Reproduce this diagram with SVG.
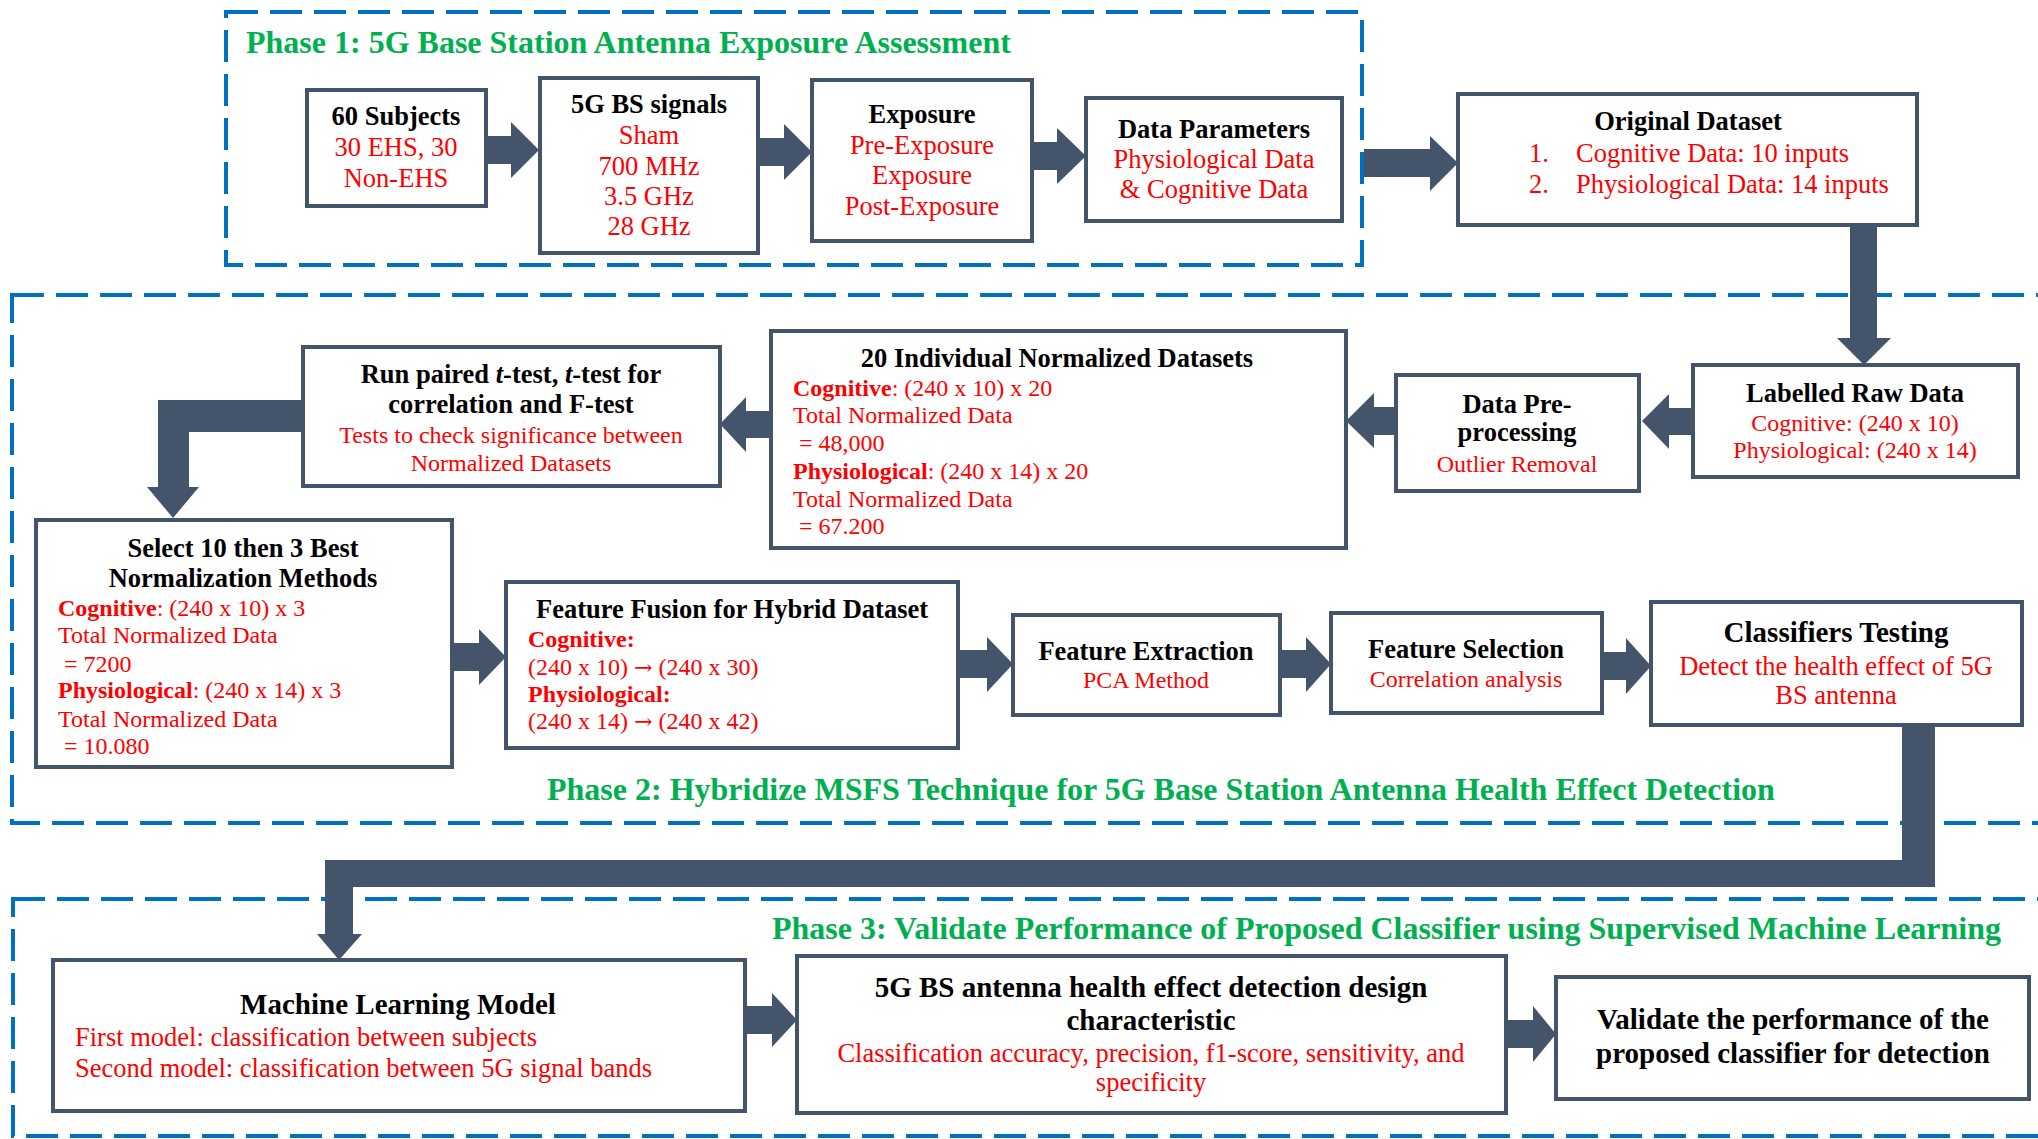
<svg xmlns="http://www.w3.org/2000/svg" width="2038" height="1139" viewBox="0 0 2038 1139">
<style>
text{font-family:"Liberation Serif","Times New Roman",serif}
.box{fill:#fff;stroke:#44546A;stroke-width:4}
.dash{fill:none;stroke:#0070C0;stroke-width:4;stroke-dasharray:32 12}
.arr{fill:#44546A}
.ph{fill:#00B050;font-weight:bold;font-size:32px}
.h{fill:#000;font-weight:bold;font-size:26.5px;text-anchor:middle}
.h29{fill:#000;font-weight:bold;font-size:29px;text-anchor:middle}
.r{fill:#FF0000;font-size:26.5px;text-anchor:middle}
.r24{fill:#FF0000;font-size:24px;text-anchor:middle}
.rl{fill:#FF0000;font-size:24px}
.rl26{fill:#FF0000;font-size:26.5px}
.b{font-weight:bold}
.ar{font-family:"DejaVu Serif",serif;font-size:22px}
</style>
<rect width="2038" height="1139" fill="#fff"/>
<g id="phases">
<rect class="dash" x="226" y="12" width="1136" height="253"/>
<rect class="dash" x="12" y="295" width="2060" height="528"/>
<rect class="dash" x="13" y="899" width="2060" height="237"/>
<text class="ph" x="246" y="53">Phase 1: 5G Base Station Antenna Exposure Assessment</text>
<text class="ph" x="547" y="800">Phase 2: Hybridize MSFS Technique for 5G Base Station Antenna Health Effect Detection</text>
<text class="ph" x="772" y="939">Phase 3: Validate Performance of Proposed Classifier using Supervised Machine Learning</text>
</g>
<g id="connectors">
<polygon class="arr" points="486,136 511,136 511,122 539,150 511,178 511,164 486,164"/>
<polygon class="arr" points="758,138 784,138 784,124 812,152 784,180 784,166 758,166"/>
<polygon class="arr" points="1032,142 1057,142 1057,128 1086,156 1057,184 1057,170 1032,170"/>
<polygon class="arr" points="1364,149 1430,149 1430,136 1458,163 1430,191 1430,177 1364,177"/>
<polygon class="arr" points="1850,225 1877,225 1877,338 1891,338 1864,365 1837,338 1850,338"/>
<polygon class="arr" points="1693,408 1669,408 1669,394 1642,421 1669,449 1669,435 1693,435"/>
<polygon class="arr" points="1396,407 1374,407 1374,393 1346,421 1374,448 1374,435 1396,435"/>
<polygon class="arr" points="771,411 746,411 746,397 720,424 746,452 746,438 771,438"/>
<polygon class="arr" points="303,400 158,400 158,487 147,487 173,518 199,487 189,487 189,432 303,432"/>
<polygon class="arr" points="452,643 479,643 479,629 506,657 479,685 479,671 452,671"/>
<polygon class="arr" points="958,650 987,650 987,637 1013,664 987,692 987,678 958,678"/>
<polygon class="arr" points="1280,650 1306,650 1306,637 1331,664 1306,692 1306,678 1280,678"/>
<polygon class="arr" points="1602,652 1626,652 1626,638 1651,666 1626,694 1626,680 1602,680"/>
<polygon class="arr" points="1902,725 1935,725 1935,887 353,887 353,934 362,934 339,960 317,934 325,934 325,860 1902,860"/>
<polygon class="arr" points="745,1006 772,1006 772,993 797,1020 772,1047 772,1034 745,1034"/>
<polygon class="arr" points="1506,1020 1533,1020 1533,1006 1556,1034 1533,1062 1533,1048 1506,1048"/>
</g>
<g id="n1">
<rect class="box" x="307" y="90" width="179" height="116"/>
<text class="h" x="396" y="125">60 Subjects</text>
<text class="r" x="396" y="156">30 EHS, 30</text>
<text class="r" x="396" y="187">Non-EHS</text>
</g>
<g id="n2">
<rect class="box" x="540" y="78" width="218" height="175"/>
<text class="h" x="649" y="113">5G BS signals</text>
<text class="r" x="649" y="144">Sham</text>
<text class="r" x="649" y="175">700 MHz</text>
<text class="r" x="649" y="205">3.5 GHz</text>
<text class="r" x="649" y="235">28 GHz</text>
</g>
<g id="n3">
<rect class="box" x="812" y="80" width="220" height="161"/>
<text class="h" x="922" y="123">Exposure</text>
<text class="r" x="922" y="154">Pre-Exposure</text>
<text class="r" x="922" y="184">Exposure</text>
<text class="r" x="922" y="215">Post-Exposure</text>
</g>
<g id="n4">
<rect class="box" x="1086" y="98" width="256" height="123"/>
<text class="h" x="1214" y="138">Data Parameters</text>
<text class="r" x="1214" y="168">Physiological Data</text>
<text class="r" x="1214" y="198">&amp; Cognitive Data</text>
</g>
<g id="n5">
<rect class="box" x="1458" y="94" width="459" height="131"/>
<text class="h" x="1688" y="130">Original Dataset</text>
<text class="rl26" x="1529" y="162">1.</text>
<text class="rl26" x="1576" y="162">Cognitive Data: 10 inputs</text>
<text class="rl26" x="1529" y="193">2.</text>
<text class="rl26" x="1576" y="193">Physiological Data: 14 inputs</text>
</g>
<g id="n6">
<rect class="box" x="1693" y="365" width="325" height="112"/>
<text class="h" x="1855" y="402">Labelled Raw Data</text>
<text class="r24" x="1855" y="431">Cognitive: (240 x 10)</text>
<text class="r24" x="1855" y="458">Physiological: (240 x 14)</text>
</g>
<g id="n7">
<rect class="box" x="1396" y="375" width="243" height="116"/>
<text class="h" x="1517" y="413">Data Pre-</text>
<text class="h" x="1517" y="441">processing</text>
<text class="r24" x="1517" y="472">Outlier Removal</text>
</g>
<g id="n8">
<rect class="box" x="771" y="331" width="575" height="217"/>
<text class="h" x="1057" y="367">20 Individual Normalized Datasets</text>
<text class="rl" x="793" y="396"><tspan class="b">Cognitive</tspan>: (240 x 10) x 20</text>
<text class="rl" x="793" y="423">Total Normalized Data</text>
<text class="rl" x="799" y="451">= 48,000</text>
<text class="rl" x="793" y="479"><tspan class="b">Physiological</tspan>: (240 x 14) x 20</text>
<text class="rl" x="793" y="507">Total Normalized Data</text>
<text class="rl" x="799" y="534">= 67.200</text>
</g>
<g id="n9">
<rect class="box" x="303" y="347" width="417" height="139"/>
<text class="h" x="511" y="383">Run paired <tspan font-style="italic">t</tspan>-test, <tspan font-style="italic">t</tspan>-test for</text>
<text class="h" x="511" y="413">correlation and F-test</text>
<text class="r24" x="511" y="443">Tests to check significance between</text>
<text class="r24" x="511" y="471">Normalized Datasets</text>
</g>
<g id="n10">
<rect class="box" x="36" y="520" width="416" height="247"/>
<text class="h" x="243" y="557">Select 10 then 3 Best</text>
<text class="h" x="243" y="587">Normalization Methods</text>
<text class="rl" x="58" y="616"><tspan class="b">Cognitive</tspan>: (240 x 10) x 3</text>
<text class="rl" x="58" y="643">Total Normalized Data</text>
<text class="rl" x="64" y="672">= 7200</text>
<text class="rl" x="58" y="698"><tspan class="b">Physiological</tspan>: (240 x 14) x 3</text>
<text class="rl" x="58" y="727">Total Normalized Data</text>
<text class="rl" x="64" y="754">= 10.080</text>
</g>
<g id="n11">
<rect class="box" x="506" y="582" width="452" height="166"/>
<text class="h" x="732" y="618">Feature Fusion for Hybrid Dataset</text>
<text class="rl b" x="528" y="647">Cognitive:</text>
<text class="rl" x="528" y="675">(240 x 10) <tspan class="ar">→</tspan> (240 x 30)</text>
<text class="rl b" x="528" y="702">Physiological:</text>
<text class="rl" x="528" y="729">(240 x 14) <tspan class="ar">→</tspan> (240 x 42)</text>
</g>
<g id="n12">
<rect class="box" x="1013" y="615" width="267" height="100"/>
<text class="h" x="1146" y="660">Feature Extraction</text>
<text class="r24" x="1146" y="688">PCA Method</text>
</g>
<g id="n13">
<rect class="box" x="1331" y="613" width="271" height="100"/>
<text class="h" x="1466" y="658">Feature Selection</text>
<text class="r24" x="1466" y="687">Correlation analysis</text>
</g>
<g id="n14">
<rect class="box" x="1651" y="602" width="371" height="123"/>
<text class="h29" x="1836" y="642">Classifiers Testing</text>
<text class="r" x="1836" y="675">Detect the health effect of 5G</text>
<text class="r" x="1836" y="704">BS antenna</text>
</g>
<g id="n15">
<rect class="box" x="53" y="960" width="692" height="151"/>
<text class="h29" x="398" y="1014">Machine Learning Model</text>
<text class="rl26" x="75" y="1046">First model: classification between subjects</text>
<text class="rl26" x="75" y="1077">Second model: classification between 5G signal bands</text>
</g>
<g id="n16">
<rect class="box" x="797" y="956" width="709" height="157"/>
<text class="h29" x="1151" y="997">5G BS antenna health effect detection design</text>
<text class="h29" x="1151" y="1030">characteristic</text>
<text class="r" x="1151" y="1062">Classification accuracy, precision, f1-score, sensitivity, and</text>
<text class="r" x="1151" y="1091">specificity</text>
</g>
<g id="n17">
<rect class="box" x="1556" y="977" width="473" height="122"/>
<text class="h29" x="1793" y="1029">Validate the performance of the</text>
<text class="h29" x="1793" y="1063">proposed classifier for detection</text>
</g>
</svg>
